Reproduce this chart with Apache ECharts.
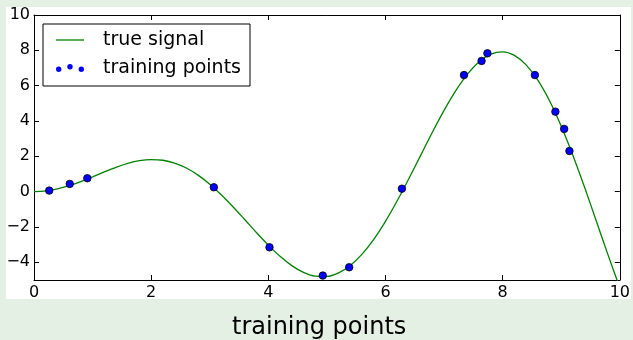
<!DOCTYPE html>
<html>
<head>
<meta charset="utf-8">
<script src="https://cdn.jsdelivr.net/npm/echarts@6/dist/echarts.min.js"></script>
<style>
  html, body { margin: 0; padding: 0; background: #e5f0e5; }
  #chart { width: 633px; height: 340px; }
</style>
</head>
<body>
<div id="chart"></div>
<script>
// Smooth reference curve (sampled every 0.2 on x)
const signalX = [0, 0.2, 0.4, 0.6, 0.8, 1.0, 1.2, 1.4, 1.6, 1.8, 2.0, 2.2, 2.4, 2.6, 2.8, 3.0,
  3.2, 3.4, 3.6, 3.8, 4.0, 4.2, 4.4, 4.6, 4.8, 5.0, 5.2, 5.4, 5.6, 5.8, 6.0, 6.2, 6.4, 6.6,
  6.8, 7.0, 7.2, 7.4, 7.6, 7.8, 8.0, 8.2, 8.4, 8.6, 8.8, 9.0, 9.2, 9.4, 9.6, 9.8, 10.0];
const signalY = [0, 0.04, 0.156, 0.339, 0.574, 0.841, 1.118, 1.380, 1.599, 1.753, 1.819, 1.779,
  1.621, 1.340, 0.938, 0.423, -0.187, -0.869, -1.593, -2.325, -3.027, -3.661, -4.187, -4.571,
  -4.782, -4.795, -4.594, -4.173, -3.535, -2.695, -1.677, -0.515, 0.746, 2.056, 3.360, 4.599,
  5.714, 6.650, 7.356, 7.789, 7.915, 7.714, 7.179, 6.316, 5.147, 3.709, 2.051, 0.233, -1.674,
  -3.592, -5.440];

// Sampled training observations
const trainX = [0.26, 0.61, 0.91, 3.07, 4.02, 4.93, 5.38, 6.28, 7.34, 7.64, 7.74, 8.55, 8.90, 9.05, 9.14];
const trainY = [0.06, 0.44, 0.76, 0.25, -3.15, -4.75, -4.28, 0.17, 6.60, 7.40, 7.83, 6.60, 4.53, 3.55, 2.30];

// Axis tick values
const xTicks = [0, 2, 4, 6, 8, 10];
const yTicks = [-4, -2, 0, 2, 4, 6, 8, 10];

const FONT = 'DejaVu Sans';
const minus = v => String(v).replace('-', '\u2212');

const axisCommon = {
  type: 'value',
  axisLine: { show: true, onZero: false, lineStyle: { color: '#000', width: 1 } },
  axisTick: { show: true, inside: true, length: 5, lineStyle: { color: '#000', width: 1 } },
  splitLine: { show: false }
};

function makeX(position, showLabel) {
  return Object.assign({}, axisCommon, {
    position: position,
    min: 0, max: 10, interval: 2,
    axisTick: Object.assign({}, axisCommon.axisTick, { customValues: xTicks }),
    axisLabel: {
      show: showLabel, customValues: xTicks, formatter: minus,
      color: '#000', fontSize: 16, fontFamily: FONT, margin: 5
    }
  });
}
function makeY(position, showLabel) {
  return Object.assign({}, axisCommon, {
    position: position,
    min: -5, max: 10,
    axisTick: Object.assign({}, axisCommon.axisTick, { customValues: yTicks }),
    axisLabel: {
      show: showLabel, customValues: yTicks, formatter: minus,
      color: '#000', fontSize: 16, fontFamily: FONT, margin: 4
    }
  });
}

// Legend glyphs: a short green stroke and a trio of dots
const lineIcon = 'path://M0,0L28,0L28,1.3L0,1.3Z';
const dotsIcon = 'path://M0,5.2A2.7,2.7,0,1,0,5.4,5.2A2.7,2.7,0,1,0,0,5.2Z' +
  'M11.3,2.7A2.7,2.7,0,1,0,16.7,2.7A2.7,2.7,0,1,0,11.3,2.7Z' +
  'M22.6,5.2A2.7,2.7,0,1,0,28,5.2A2.7,2.7,0,1,0,22.6,5.2Z';

const chart = echarts.init(document.getElementById('chart'), null, { renderer: 'canvas' });
chart.setOption({
  animation: false,
  backgroundColor: '#e5f0e5',
  textStyle: { fontFamily: FONT },
  graphic: [{
    type: 'rect', z: -100,
    shape: { x: 6, y: 7, width: 625, height: 292 },
    style: { fill: '#ffffff' }
  }],
  title: {
    text: 'training points',
    left: 227, top: 311,
    textStyle: { fontSize: 24, fontWeight: 'normal', color: '#000', fontFamily: FONT }
  },
  grid: { left: 34, top: 15, right: 12, bottom: 60, containLabel: false },
  xAxis: [makeX('bottom', true), makeX('top', false)],
  yAxis: [makeY('left', true), makeY('right', false)],
  legend: {
    left: 43, top: 24, orient: 'vertical',
    backgroundColor: '#fff', borderColor: '#000', borderWidth: 1, borderRadius: 0,
    padding: [5, 9, 7, 13],
    itemGap: 6, itemWidth: 28, itemHeight: 8,
    symbolKeepAspect: true,
    textStyle: { fontSize: 19, color: '#000', lineHeight: 22, fontFamily: FONT, padding: [0, 0, 0, 14] },
    data: [
      { name: 'true signal', icon: lineIcon, itemStyle: { color: '#008000', borderWidth: 0 } },
      { name: 'training points', icon: dotsIcon, itemStyle: { color: '#0000ff', borderWidth: 0 } }
    ]
  },
  series: [
    {
      name: 'true signal', type: 'line',
      data: signalX.map((x, i) => [x, signalY[i]]),
      symbol: 'none', smooth: 0.3, clip: true,
      lineStyle: { color: '#008000', width: 1.3 },
      itemStyle: { color: '#008000' },
      z: 2
    },
    {
      name: 'training points', type: 'scatter',
      data: trainX.map((x, i) => [x, trainY[i]]),
      symbolSize: 7.5,
      itemStyle: { color: '#0000ff', borderColor: '#000', borderWidth: 0.8, opacity: 1 },
      z: 3
    }
  ]
});
</script>
</body>
</html>
